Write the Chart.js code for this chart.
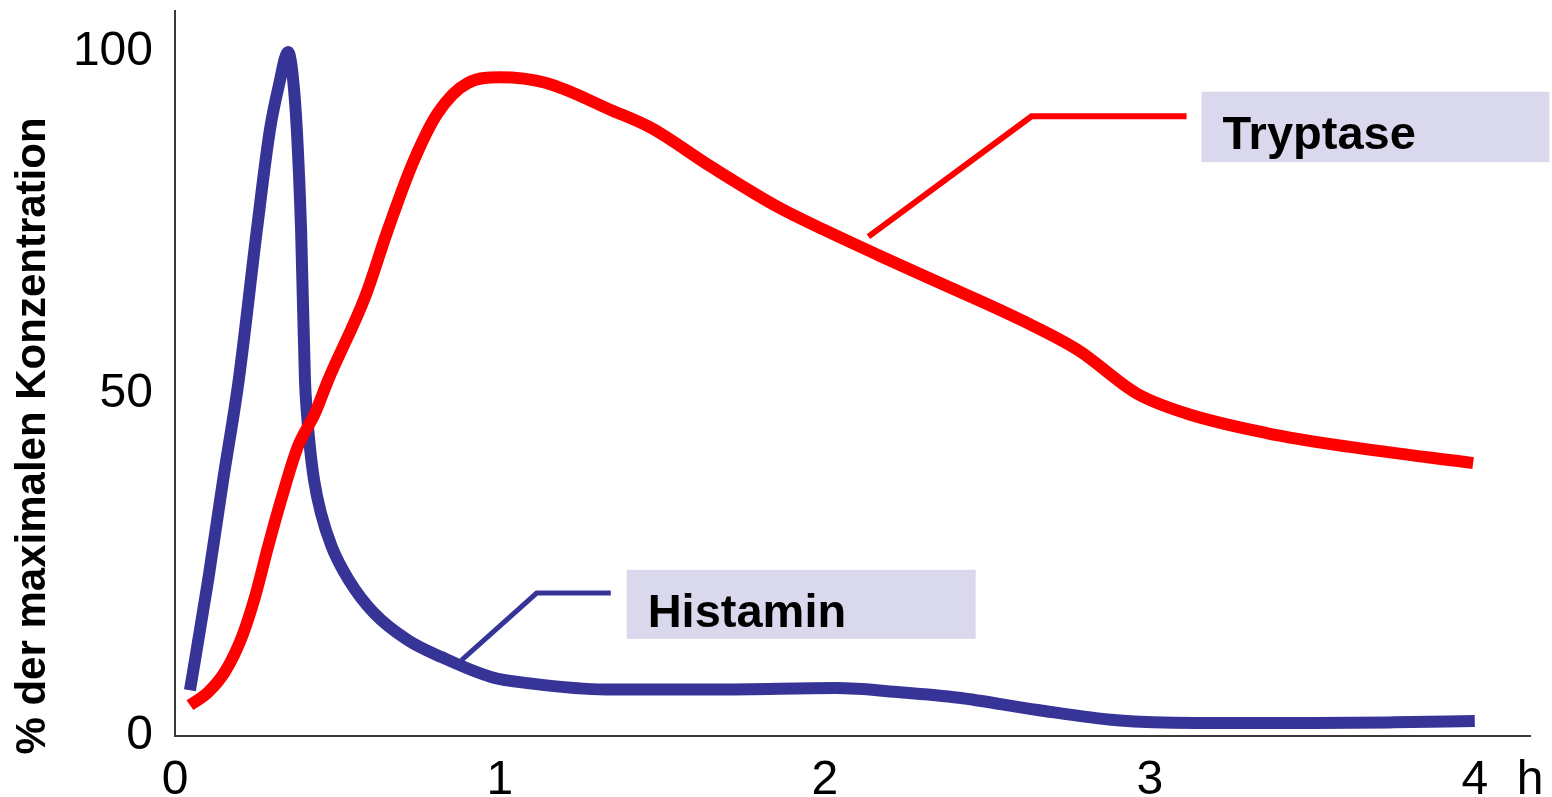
<!DOCTYPE html>
<html lang="de">
<head>
  <meta charset="UTF-8" />
  <title>Histamin und Tryptase – % der maximalen Konzentration</title>
  <script src="https://cdn.jsdelivr.net/npm/chart.js"></script>
  <style>
    html, body { margin: 0; padding: 0; background: #fff; }
    #wrap { width: 1552px; height: 797px; }
  </style>
</head>
<body>
  <div id="wrap"><canvas id="chart" width="1552" height="797"></canvas></div>

  <script>
    // data (x in hours, y in % of max concentration)
    const histaminTime  = [0.046, 0.102, 0.148, 0.196, 0.252, 0.292, 0.320, 0.348, 0.363, 0.375, 0.388, 0.400, 0.406, 0.415, 0.428, 0.449, 0.483, 0.535, 0.612, 0.717, 0.822, 0.975, 1.092, 1.326, 1.68, 2.034, 2.231, 2.412, 2.655, 2.898, 3.142, 3.508, 3.751, 4.0];
    const histaminValue = [6.7, 22.8, 37.4, 52.0, 74.0, 88.6, 95.2, 100, 96.2, 88.6, 74.0, 52.0, 47.2, 42.3, 37.4, 32.6, 27.6, 22.8, 18.0, 14.0, 11.5, 8.6, 7.7, 6.8, 6.8, 7.0, 6.4, 5.6, 3.8, 2.3, 1.9, 1.9, 2.0, 2.2];

    const tryptaseTime  = [0.046, 0.102, 0.154, 0.206, 0.246, 0.286, 0.329, 0.378, 0.431, 0.471, 0.585, 0.655, 0.732, 0.809, 0.902, 1.0, 1.14, 1.343, 1.466, 1.651, 1.857, 2.011, 2.165, 2.356, 2.605, 2.78, 2.959, 3.11, 3.359, 3.61, 3.995];
    const tryptaseValue = [4.5, 6.4, 9.4, 14.5, 20.3, 27.6, 34.9, 42.3, 47.2, 52.0, 64.2, 74.0, 83.8, 91.1, 95.5, 96.3, 95.5, 91.5, 88.9, 83.2, 77.3, 73.7, 70.3, 66.2, 60.8, 56.4, 50.1, 47.2, 44.3, 42.3, 39.9];

    // leader lines from the curves to the labels
    const tryptaseLeaderTime  = [2.134, 2.636, 3.113];
    const tryptaseLeaderValue = [73.0, 90.6, 90.6];
    const histaminLeaderTime  = [0.882, 1.113, 1.341];
    const histaminLeaderValue = [11.1, 20.9, 20.9];

    const xTicks = [0, 1, 2, 3, 4];
    const xUnit = 'h';
    const yTicks = [0, 50, 100];
    const yTitle = '% der maximalen Konzentration';

    const BLUE = '#363497';
    const RED = '#ff0000';
    const FONT = '"Liberation Sans", Arial, sans-serif';
    const X_MAX = 4.17;

    const pts = (xs, ys) => xs.map((x, i) => ({ x, y: ys[i] }));

    // label boxes (corners in axis units)
    const callouts = [
      { text: 'Tryptase', x0: 3.159, x1: 4.23, y0: 94.2, y1: 83.9 },
      { text: 'Histamin', x0: 1.390, x1: 2.464, y0: 24.3, y1: 14.2 }
    ];

    const calloutPlugin = {
      id: 'callouts',
      beforeDatasetsDraw(chart) {
        const { ctx, scales: { x, y } } = chart;
        ctx.save();
        ctx.fillStyle = '#dad8ec';
        callouts.forEach(c => {
          const l = x.getPixelForValue(c.x0), r = x.getPixelForValue(c.x1);
          const t = y.getPixelForValue(c.y0), b = y.getPixelForValue(c.y1);
          ctx.fillRect(l, t, r - l, b - t);
        });
        ctx.restore();
      },
      afterDatasetsDraw(chart) {
        const { ctx, scales: { x, y } } = chart;
        ctx.save();
        ctx.fillStyle = '#000';
        ctx.font = `bold 47px ${FONT}`;
        ctx.textBaseline = 'alphabetic';
        ctx.textAlign = 'left';
        callouts.forEach(c => {
          const l = x.getPixelForValue(c.x0), t = y.getPixelForValue(c.y0);
          ctx.fillText(c.text, l + 21, t + 57);
        });
        // rotated y title
        ctx.translate(45, 436);
        ctx.rotate(-Math.PI / 2);
        ctx.textAlign = 'center';
        ctx.font = `bold 42px ${FONT}`;
        ctx.fillText(yTitle, 0, 0);
        ctx.restore();
      }
    };

    const lineStyle = (color, width) => ({
      borderColor: color, borderWidth: width, pointRadius: 0,
      fill: false, borderJoinStyle: 'round', borderCapStyle: 'butt'
    });

    new Chart(document.getElementById('chart'), {
      type: 'scatter',
      data: {
        datasets: [
          { label: 'Tryptase', data: pts(tryptaseTime, tryptaseValue), showLine: true, cubicInterpolationMode: 'monotone', ...lineStyle(RED, 12) },
          { label: 'Histamin', data: pts(histaminTime, histaminValue), showLine: true, cubicInterpolationMode: 'monotone', ...lineStyle(BLUE, 12) },
          { label: 'tryptase-leader', data: pts(tryptaseLeaderTime, tryptaseLeaderValue), showLine: true, tension: 0, ...lineStyle(RED, 6), borderJoinStyle: 'miter' },
          { label: 'histamin-leader', data: pts(histaminLeaderTime, histaminLeaderValue), showLine: true, tension: 0, ...lineStyle(BLUE, 5), borderJoinStyle: 'miter' }
        ]
      },
      options: {
        responsive: false,
        animation: false,
        devicePixelRatio: 1,
        layout: { padding: { top: 11, right: 22, left: 0, bottom: 0 } },
        plugins: { legend: { display: false }, tooltip: { enabled: false } },
        scales: {
          x: {
            type: 'linear', min: 0, max: X_MAX,
            grid: { display: false },
            border: { display: true, color: '#3a3a3a', width: 2 },
            afterBuildTicks: s => { s.ticks = xTicks.concat([X_MAX]).map(v => ({ value: v })); },
            afterFit: s => { s.height = 61; s.paddingLeft = 0; s.paddingRight = 0; },
            ticks: {
              autoSkip: false, maxRotation: 0, padding: 8, color: '#000',
              font: { family: FONT, size: 48 },
              callback: v => (v > 4.1 ? xUnit : String(v))
            }
          },
          y: {
            type: 'linear', min: 0, max: 106,
            grid: { display: false },
            border: { display: true, color: '#3a3a3a', width: 2 },
            afterBuildTicks: s => { s.ticks = yTicks.map(v => ({ value: v })); },
            afterFit: s => { s.width = 175; s.paddingTop = 0; s.paddingBottom = 0; },
            ticks: {
              padding: 14, color: '#000',
              font: { family: FONT, size: 48 },
              callback: v => String(v)
            }
          }
        }
      },
      plugins: [calloutPlugin]
    });
  </script>
</body>
</html>
